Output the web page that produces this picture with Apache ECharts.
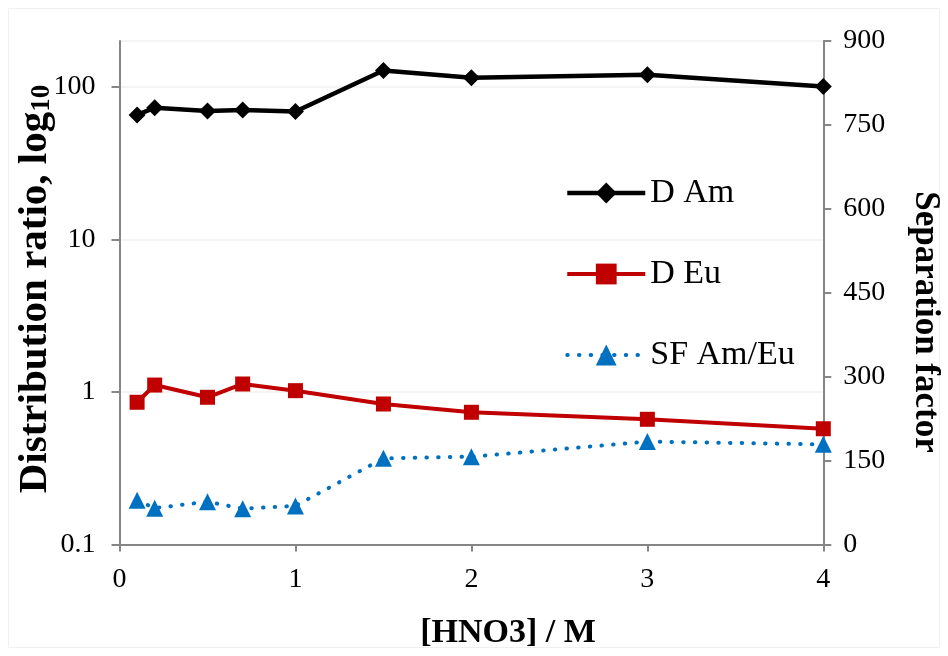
<!DOCTYPE html>
<html>
<head>
<meta charset="utf-8">
<script src="https://cdn.jsdelivr.net/npm/echarts@6/dist/echarts.min.js"></script>
<style>
html,body{margin:0;padding:0;background:#fff;}
#chart{width:948px;height:656px;}
</style>
</head>
<body>
<div id="chart"></div>
<script>
// ---- data ----
var hno3 = [0.1, 0.2, 0.5, 0.7, 1, 1.5, 2, 3, 4];
var dAm = [65.5, 73, 69.5, 70.5, 69, 128, 115, 120, 100.5];
var dEu = [0.856, 1.11, 0.923, 1.128, 1.02, 0.834, 0.736, 0.662, 0.574];
var sfAmEu = [79, 65, 76.5, 64, 69, 154, 157, 184, 179];
var seriesNames = ['D Am', 'D Eu', 'SF Am/Eu'];
var xTitle = '[HNO3] / M';
var yLeftTitle = 'Distribution ratio, log{s|10}';
var yRightTitle = 'Separation factor';

function pairs(xs, ys) { return xs.map(function (x, i) { return [x, ys[i]]; }); }

var FONT = 'Liberation Serif';
var AXIS = '#868686';

var chart = echarts.init(document.getElementById('chart'));
chart.setOption({
  animation: false,
  backgroundColor: '#ffffff',
  grid: { left: 119.5, right: 124.7, top: 41, bottom: 111.5, containLabel: false },
  legend: {
    orient: 'vertical',
    left: 565,
    top: 173,
    padding: 0,
    itemWidth: 78,
    itemHeight: 26,
    itemGap: 41,
    data: seriesNames,
    lineStyle: { width: 'inherit' },
    textStyle: { fontFamily: FONT, fontSize: 34, color: '#000', lineHeight: 40 }
  },
  xAxis: {
    type: 'value',
    min: 0, max: 4, interval: 1,
    axisLine: { show: true, lineStyle: { color: AXIS, width: 2 } },
    axisTick: { show: true, inside: false, length: 7, lineStyle: { color: AXIS, width: 2 } },
    axisLabel: { fontFamily: FONT, fontSize: 28, color: '#000', margin: 21 },
    splitLine: { show: false }
  },
  yAxis: [
    {
      type: 'log', logBase: 10, min: 0.1, max: 200,
      position: 'left',
      axisLine: { show: true, lineStyle: { color: AXIS, width: 2 } },
      axisTick: { show: true, inside: false, length: 8, lineStyle: { color: AXIS, width: 2 } },
      axisLabel: { fontFamily: FONT, fontSize: 28, color: '#000', margin: 24, showMaxLabel: false,
        formatter: function (v) { return String(+v.toPrecision(6)); } },
      splitLine: { show: true, lineStyle: { color: '#f0f0f0', width: 1.5 } }
    },
    {
      type: 'value', min: 0, max: 900, interval: 150,
      position: 'right',
      axisLine: { show: true, lineStyle: { color: AXIS, width: 2 } },
      axisTick: { show: true, inside: false, length: 8, lineStyle: { color: AXIS, width: 2 } },
      axisLabel: { fontFamily: FONT, fontSize: 28, color: '#000', margin: 20 },
      splitLine: { show: false }
    }
  ],
  graphic: [
    { type: 'rect', silent: true, z: -10, shape: { x: 8.5, y: 8.5, width: 931, height: 639 },
      style: { fill: null, stroke: '#f0f0f0', lineWidth: 1 } },
    { type: 'text', x: 508, y: 633, silent: true,
      style: { text: xTitle, fontFamily: FONT, fontSize: 34, fontWeight: 'bold', fill: '#000',
        textAlign: 'center', textVerticalAlign: 'middle' } },
    { type: 'text', x: 35, y: 289, rotation: Math.PI / 2, silent: true,
      style: { text: yLeftTitle, fontFamily: FONT, fontSize: 41, fontWeight: 'bold', fill: '#000',
        textAlign: 'center', textVerticalAlign: 'middle',
        rich: { s: { fontFamily: FONT, fontSize: 27, fontWeight: 'bold', fill: '#000', verticalAlign: 'bottom', padding: [14, 0, 0, 0] } } } },
    { type: 'text', x: 925, y: 322, rotation: -Math.PI / 2, silent: true,
      style: { text: yRightTitle, fontFamily: FONT, fontSize: 35, fontWeight: 'bold', fill: '#000',
        textAlign: 'center', textVerticalAlign: 'middle' } }
  ],
  series: [
    {
      name: seriesNames[0], type: 'line', yAxisIndex: 0,
      data: pairs(hno3, dAm),
      symbol: 'diamond', symbolSize: 17,
      lineStyle: { color: '#000000', width: 4.5 },
      itemStyle: { color: '#000000' },
      z: 3
    },
    {
      name: seriesNames[1], type: 'line', yAxisIndex: 0,
      data: pairs(hno3, dEu),
      symbol: 'rect', symbolSize: 15,
      lineStyle: { color: '#c00000', width: 4 },
      itemStyle: { color: '#c00000' },
      z: 4
    },
    {
      name: seriesNames[2], type: 'line', yAxisIndex: 1,
      data: pairs(hno3, sfAmEu),
      symbol: 'triangle', symbolSize: 17,
      lineStyle: { color: '#0070c0', width: 4, type: [0.5, 11.2], cap: 'round' },
      itemStyle: { color: '#0070c0' },
      z: 5
    }
  ]
});
</script>
</body>
</html>
